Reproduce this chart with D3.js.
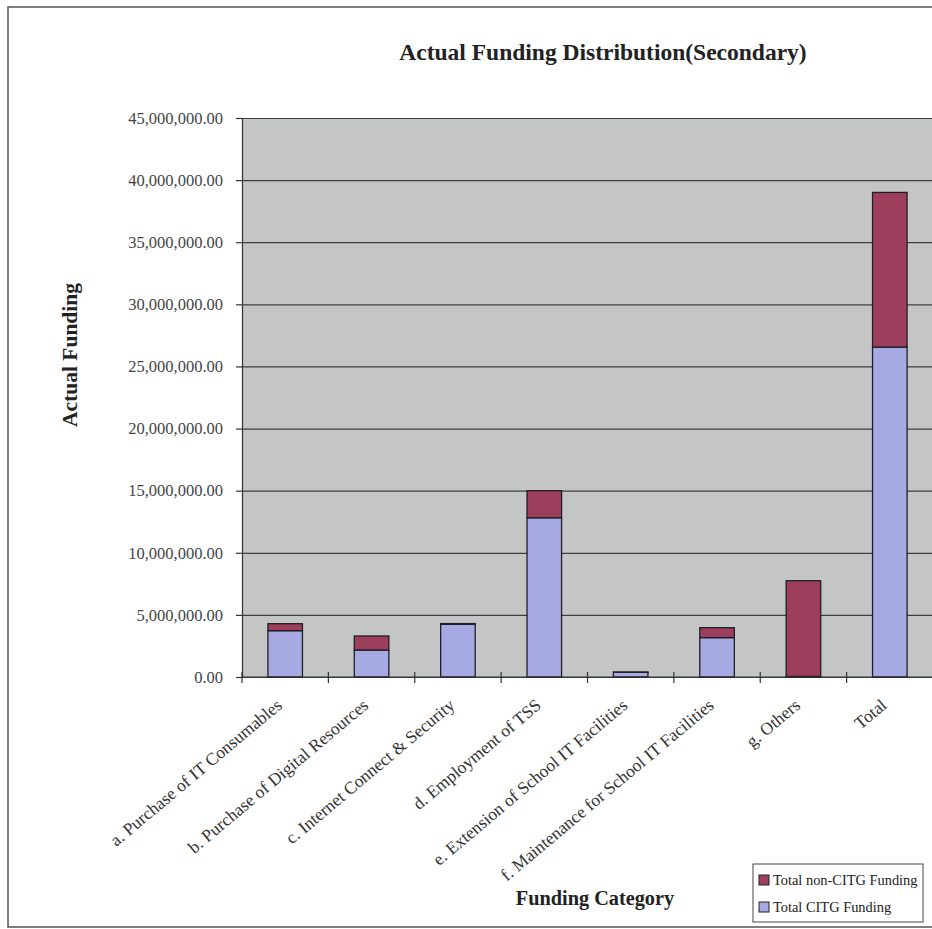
<!DOCTYPE html>
<html>
<head>
<meta charset="utf-8">
<script src="https://cdn.jsdelivr.net/npm/d3@7"></script>
<style>
  body { margin: 0; background: #fff; }
  svg { display: block; font-family: "Liberation Serif", "Times New Roman", serif; }
</style>
</head>
<body>
<div id="chart"></div>
<script>
// values (in dollars)
const categories = [
    "a. Purchase of IT Consumables",
    "b. Purchase of Digital Resources",
    "c. Internet Connect & Security",
    "d. Employment of TSS",
    "e. Extension of School IT Facilities",
    "f. Maintenance for School IT Facilities",
    "g. Others",
    "Total"
];
const citgFunding = [3730000, 2170000, 4240000, 12820000, 380000, 3170000, 50000, 26560000];
const nonCitgFunding = [560000, 1130000, 60000, 2180000, 20000, 800000, 7700000, 12450000];
const yTicks = [0, 5e6, 10e6, 15e6, 20e6, 25e6, 30e6, 35e6, 40e6, 45e6];
const seriesNames = ["Total CITG Funding", "Total non-CITG Funding"];

(function () {
    const W = 932, H = 929;
    const plot = { left: 242, top: 118, width: 691, height: 559 };

    const svg = d3.select("#chart").append("svg")
        .attr("width", W).attr("height", H);

    // outer frame (right side runs off the page)
    svg.append("rect")
        .attr("x", 8).attr("y", 7)
        .attr("width", W + 20).attr("height", 920)
        .attr("fill", "#fff").attr("stroke", "#555").attr("stroke-width", 1.5);

    const rows = categories.map((c, i) => ({ cat: c, citg: citgFunding[i], non: nonCitgFunding[i] }));
    const stack = d3.stack().keys(["citg", "non"])(rows);

    const x = d3.scaleBand().domain(categories)
        .range([plot.left, plot.left + plot.width])
        .paddingInner(0.6).paddingOuter(0.3);
    const y = d3.scaleLinear().domain([0, 45e6])
        .range([plot.top + plot.height, plot.top]);
    const color = d3.scaleOrdinal().domain(["citg", "non"]).range(["#a7a9e2", "#9d3f5c"]);

    // plot background
    svg.append("rect")
        .attr("x", plot.left).attr("y", plot.top)
        .attr("width", plot.width).attr("height", plot.height)
        .attr("fill", "#c3c6c5");

    // gridlines
    svg.append("g")
        .attr("transform", `translate(${plot.left},0)`)
        .call(d3.axisLeft(y).tickValues(yTicks).tickSize(-plot.width).tickFormat(""))
        .call(g => g.select(".domain").remove())
        .call(g => g.selectAll("line").attr("stroke", "#3c4044").attr("stroke-width", 1.2));

    // bars
    svg.append("g").selectAll("g")
        .data(stack).join("g")
        .attr("fill", d => color(d.key))
        .selectAll("rect")
        .data(d => d).join("rect")
        .attr("x", d => x(d.data.cat))
        .attr("y", d => y(d[1]))
        .attr("width", x.bandwidth())
        .attr("height", d => Math.max(0, y(d[0]) - y(d[1])))
        .attr("stroke", "#1e1e28").attr("stroke-width", 1.3);

    // y axis
    const fmt = d3.format(",.2f");
    svg.append("g")
        .attr("transform", `translate(${plot.left},0)`)
        .call(d3.axisLeft(y).tickValues(yTicks).tickSize(6).tickPadding(13).tickFormat(fmt))
        .call(g => g.selectAll("line,.domain").attr("stroke", "#333").attr("stroke-width", 1.2))
        .call(g => g.selectAll("text")
            .attr("font-family", "Liberation Serif, serif")
            .attr("font-size", 16.5).attr("fill", "#444"));

    // x axis with crossing ticks at band boundaries
    const xAxisG = svg.append("g")
        .attr("transform", `translate(0,${plot.top + plot.height})`);
    xAxisG.append("line")
        .attr("x1", plot.left).attr("x2", plot.left + plot.width)
        .attr("stroke", "#333").attr("stroke-width", 1.2);
    xAxisG.selectAll(".tk")
        .data(d3.range(categories.length + 1)).join("line")
        .attr("class", "tk")
        .attr("x1", i => plot.left + i * x.step())
        .attr("x2", i => plot.left + i * x.step())
        .attr("y1", -5).attr("y2", 6)
        .attr("stroke", "#333").attr("stroke-width", 1.2);
    xAxisG.selectAll(".lbl")
        .data(categories).join("text")
        .attr("class", "lbl")
        .attr("transform", d => `translate(${x(d) + x.bandwidth() / 2 - 2},${30}) rotate(-40)`)
        .attr("text-anchor", "end")
        .attr("font-size", 17.5).attr("fill", "#333")
        .text(d => d);

    // titles
    svg.append("text")
        .attr("x", 603).attr("y", 60)
        .attr("text-anchor", "middle")
        .attr("font-size", 23.5).attr("font-weight", "bold").attr("fill", "#222")
        .text("Actual Funding Distribution(Secondary)");
    svg.append("text")
        .attr("transform", "translate(77,355) rotate(-90)")
        .attr("text-anchor", "middle")
        .attr("font-size", 21.5).attr("font-weight", "bold").attr("fill", "#222")
        .text("Actual Funding");
    svg.append("text")
        .attr("x", 595).attr("y", 905)
        .attr("text-anchor", "middle")
        .attr("font-size", 20.3).attr("font-weight", "bold").attr("fill", "#222")
        .text("Funding Category");

    // legend
    const lg = svg.append("g").attr("transform", "translate(753,864)");
    lg.append("rect").attr("width", 170).attr("height", 58)
        .attr("fill", "#fff").attr("stroke", "#444").attr("stroke-width", 1);
    const items = [{ key: "non", name: seriesNames[1] }, { key: "citg", name: seriesNames[0] }];
    const li = lg.selectAll(".li").data(items).join("g")
        .attr("class", "li")
        .attr("transform", (d, i) => `translate(6,${16 + i * 27})`);
    li.append("rect")
        .attr("x", 0).attr("y", -5).attr("width", 10).attr("height", 10)
        .attr("fill", d => color(d.key)).attr("stroke", "#222").attr("stroke-width", 1);
    li.append("text")
        .attr("x", 14).attr("y", 5)
        .attr("font-size", 14.4).attr("fill", "#222")
        .text(d => d.name);
})();
</script>
</body>
</html>
